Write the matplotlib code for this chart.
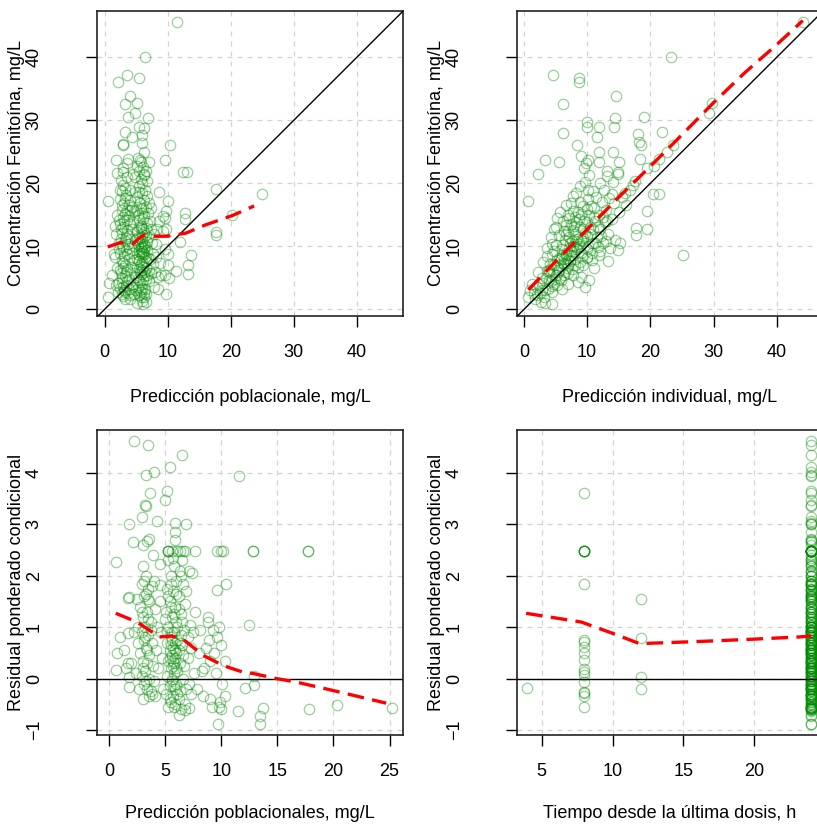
import matplotlib.pyplot as plt

plt.rcParams['font.family'] = ['Liberation Sans', 'DejaVu Sans']

# ---- data ----
# population prediction vs observed concentration (mg/L)
pred_obs = [
    (11.5, 45.5), (6.4, 40.1), (2.2, 36.1), (3.5, 37.2), (5.4, 36.7), (4.0, 33.9),
    (3.2, 32.6), (5.2, 32.8), (4.9, 31.1), (3.7, 30.5), (6.9, 30.3), (5.4, 29.0),
    (6.3, 28.8), (3.3, 28.1), (6.0, 27.7), (4.4, 27.4), (2.9, 26.2), (3.0, 26.1),
    (6.0, 26.4), (10.3, 26.1), (6.2, 24.9), (9.5, 23.7), (1.8, 23.7), (3.7, 23.8),
    (3.5, 23.2), (7.1, 23.3), (5.6, 23.7), (2.9, 22.5), (12.4, 21.8), (13.0, 21.8),
    (2.0, 21.6), (4.5, 21.4), (6.3, 21.4), (0.5, 17.2), (8.7, 18.6), (10.1, 17.2),
    (17.7, 19.1), (25.0, 18.3), (20.2, 14.9), (12.8, 15.3), (12.8, 14.3), (17.7, 12.3),
    (17.7, 11.8), (12.0, 10.7), (9.5, 14.5), (9.8, 15.6), (1.7, 13.2), (1.7, 8.3),
    (13.7, 8.6), (13.3, 7.0), (13.3, 5.6), (11.4, 6.1), (10.1, 8.8), (10.2, 4.9),
    (9.7, 2.5), (6.1, 0.9), (0.7, 4.2), (0.5, 2.0), (1.8, 3.8), (3.3, 1.7),
    (2.6, 20.5), (3.0, 19.8), (2.8, 18.7), (3.4, 18.2), (2.5, 17.5), (3.1, 16.9),
    (3.8, 16.5), (2.7, 15.8), (3.3, 15.2), (2.9, 14.6), (3.6, 14.1), (2.4, 13.5),
    (3.0, 13.0), (3.5, 12.6), (2.8, 12.1), (3.9, 11.7), (2.6, 11.2), (3.2, 10.8),
    (3.7, 10.3), (2.9, 9.9), (3.4, 9.4), (2.5, 8.9), (3.1, 8.5), (3.8, 8.0),
    (2.7, 7.6), (3.3, 7.1), (2.9, 6.6), (3.6, 6.2), (2.6, 5.7), (3.2, 5.3),
    (3.9, 4.8), (2.8, 4.4), (3.4, 3.9), (2.5, 3.4), (3.1, 3.0), (3.7, 2.6),
    (3.0, 2.1), (4.0, 1.6), (3.5, 12.0), (3.8, 14.8), (4.1, 17.3), (2.3, 10.5),
    (4.2, 6.8), (4.4, 9.0), (4.3, 12.8), (4.0, 19.0),
    (5.3, 24.0), (5.8, 23.4), (6.1, 22.6), (5.5, 22.0), (6.3, 21.3), (5.7, 20.7),
    (6.0, 20.0), (5.4, 19.5), (6.4, 19.0), (5.9, 18.4), (5.2, 17.9), (6.2, 17.4),
    (5.6, 16.8), (6.5, 16.3), (5.0, 15.8), (5.9, 15.3), (6.3, 14.8), (5.4, 14.2),
    (6.7, 13.7), (5.7, 13.2), (6.1, 12.7), (5.1, 12.2), (6.5, 11.8), (5.6, 11.3),
    (6.0, 10.8), (5.3, 10.4), (6.4, 10.0), (5.8, 9.6), (5.5, 9.2), (6.2, 8.8),
    (5.9, 8.4), (5.2, 8.0), (6.6, 7.6), (5.7, 7.2), (6.1, 6.8), (5.4, 6.4),
    (6.3, 6.0), (5.8, 5.6), (5.0, 5.2), (6.5, 4.8), (5.6, 4.4), (6.0, 4.0),
    (5.3, 3.6), (6.4, 3.2), (5.8, 2.8), (5.5, 2.3), (6.2, 1.9), (5.9, 1.4),
    (4.8, 18.6), (4.9, 11.0), (4.7, 7.8), (6.8, 9.4), (6.9, 11.4), (7.0, 6.3),
    (7.2, 14.0), (7.1, 4.5), (6.7, 20.4), (6.6, 2.5), (5.7, 10.1), (6.0, 9.2),
    (5.5, 8.6), (6.2, 10.4), (5.9, 11.9), (5.4, 13.0), (6.1, 14.4), (5.8, 16.0),
    (7.6, 8.8), (8.0, 6.0), (8.4, 5.2), (8.8, 7.3), (7.8, 3.5), (8.2, 10.3),
    (9.0, 5.5), (9.3, 12.5), (8.6, 14.0), (7.4, 16.0), (7.9, 12.0), (8.5, 3.3),
    (9.5, 9.5), (10.0, 7.0), (9.8, 12.8), (9.2, 14.8), (9.6, 5.4),
    (1.2, 5.5), (1.5, 8.8), (1.8, 12.0), (2.0, 6.5), (2.2, 2.8), (1.9, 15.0),
    (2.3, 9.5), (2.1, 4.2),
    (5.9, 9.9), (6.1, 9.0), (5.7, 8.9), (6.3, 9.7), (5.6, 10.6), (6.0, 11.5),
    (6.2, 12.2), (5.8, 12.9), (5.5, 7.7), (6.0, 7.5), (6.4, 8.3), (5.9, 6.2),
    (6.2, 5.3), (5.6, 5.9), (5.3, 4.8), (6.7, 5.5), (6.0, 3.3), (5.7, 1.9),
    (6.5, 1.2), (5.1, 1.0), (4.6, 2.5), (4.5, 4.0), (4.7, 5.8), (4.6, 10.0),
    (4.5, 13.8), (4.7, 15.6), (4.4, 16.2), (4.9, 21.0), (5.1, 22.8), (6.6, 22.0),
    (6.8, 18.0), (7.0, 16.8), (6.9, 15.3), (7.3, 12.7), (7.5, 10.5), (7.2, 8.0),
    (7.4, 5.8), (7.7, 7.2), (8.1, 8.3), (8.3, 12.8), (3.3, 19.2), (3.6, 21.0),
    (2.9, 21.8), (3.2, 17.7), (2.7, 16.6), (3.5, 15.8), (3.1, 14.0), (2.6, 12.7),
    (3.4, 11.3), (2.8, 10.2), (3.6, 8.8), (2.9, 7.3), (3.4, 5.9), (2.7, 4.9),
    (3.5, 4.5), (3.0, 3.6), (2.7, 2.4), (3.3, 2.8), (3.9, 3.2), (4.1, 2.3),
    (4.3, 3.5), (3.9, 9.7), (4.0, 13.5), (4.1, 15.8), (2.4, 6.3), (2.3, 14.2),
    (2.5, 19.0), (5.5, 18.6), (6.1, 16.1), (5.3, 15.0), (6.5, 12.9), (5.2, 11.1),
    (6.7, 10.7), (6.9, 8.2), (5.1, 6.7), (6.6, 6.6), (5.0, 3.0), (6.3, 2.6),
    (5.6, 3.1), (6.1, 4.7),
]
pred_obs_smooth_x = [0.5, 2.5, 4.5, 5.5, 6.3, 8.0, 10.0, 12.9, 16.0, 20.3, 23.7]
pred_obs_smooth_y = [9.9, 10.6, 10.4, 11.3, 11.8, 11.6, 11.6, 12.1, 13.4, 14.9, 16.4]

# individual prediction vs observed concentration (mg/L)
ipred_obs = [
    (44.1, 45.5), (23.3, 40.1), (4.6, 37.2), (8.7, 36.7), (8.7, 36.1), (14.5, 33.9),
    (6.2, 32.6), (29.8, 32.7), (29.2, 31.1), (9.9, 29.7), (9.9, 29.0), (11.9, 28.9),
    (14.4, 30.3), (14.2, 28.9), (19.0, 30.5), (6.1, 27.9), (11.5, 27.3), (18.1, 27.8),
    (18.2, 26.6), (18.5, 26.1), (21.9, 28.1), (23.5, 26.1), (8.4, 26.1), (11.9, 25.0),
    (11.9, 23.4), (14.1, 24.9), (9.0, 24.4), (3.3, 23.7), (5.5, 23.4), (10.2, 23.7),
    (9.8, 23.2), (9.5, 22.4), (15.0, 23.4), (18.4, 23.8), (21.4, 23.8), (22.7, 24.9),
    (2.2, 21.5), (10.3, 21.3), (13.1, 21.9), (14.8, 21.8), (13.2, 21.2), (14.9, 21.4),
    (12.0, 20.0), (14.1, 20.2), (19.4, 22.4), (20.6, 22.8), (20.4, 18.3), (21.4, 18.3),
    (19.4, 15.6), (19.4, 12.8), (17.7, 12.9), (17.7, 11.8), (25.2, 8.7), (0.7, 17.2),
    (13.3, 7.6), (4.4, 0.9), (0.7, 1.9),
    (2.0, 3.5), (2.5, 2.6), (3.0, 4.2), (3.2, 2.0), (3.5, 5.0), (3.8, 3.3),
    (4.0, 6.2), (4.2, 4.5), (4.5, 2.8), (4.8, 7.0), (5.0, 5.4), (5.2, 3.8),
    (5.5, 8.2), (5.6, 6.3), (5.8, 4.6), (6.0, 9.5), (6.1, 7.4), (6.3, 5.5),
    (6.5, 11.0), (6.6, 8.6), (6.8, 6.5), (7.0, 12.4), (7.1, 9.8), (7.3, 7.6),
    (7.5, 13.5), (7.6, 10.9), (7.8, 8.7), (8.0, 14.6), (8.1, 12.0), (8.3, 9.9),
    (8.5, 6.8), (8.6, 15.5), (8.8, 13.0), (9.0, 11.0), (9.2, 8.4), (9.4, 16.4),
    (9.5, 14.0), (9.7, 12.1), (9.9, 9.6), (10.1, 17.5), (10.3, 15.0), (10.5, 13.1),
    (10.7, 10.6), (10.9, 18.7), (11.1, 16.0), (11.3, 14.0), (11.5, 11.5), (11.8, 15.0),
    (12.0, 12.8), (12.3, 17.0), (12.5, 10.5), (12.8, 13.8), (13.0, 15.8), (13.3, 12.0),
    (13.6, 9.8), (14.0, 14.3), (14.4, 11.0), (14.8, 9.4), (15.2, 10.5), (3.0, 7.5),
    (3.6, 9.8), (4.2, 11.4), (4.8, 12.7), (5.3, 14.5), (5.7, 15.4), (6.2, 14.0),
    (6.9, 15.0), (7.4, 16.9), (8.2, 18.4), (8.9, 19.5), (9.6, 20.2), (10.2, 19.0),
    (5.0, 10.2), (2.2, 6.0), (1.6, 2.5), (1.2, 4.0), (1.0, 3.0), (1.8, 1.6),
    (2.7, 1.2), (3.4, 1.0), (6.0, 3.2), (7.0, 4.0), (7.8, 5.5), (8.6, 4.3),
    (9.1, 5.2), (6.4, 12.5), (7.2, 14.5), (8.4, 11.2), (5.9, 8.0), (6.7, 9.0),
    (7.7, 10.0), (4.4, 8.8), (3.9, 6.0), (9.3, 7.0), (10.0, 8.3), (10.8, 9.0),
    (11.7, 9.9), (12.2, 11.6), (15.5, 17.8), (16.0, 18.5), (16.7, 19.0), (17.2, 19.8),
    (17.6, 20.3), (13.5, 17.6), (14.3, 16.8), (15.0, 15.5), (16.2, 16.5), (14.0, 18.3),
    (11.0, 6.6), (10.3, 4.7), (9.7, 3.5), (6.3, 8.0), (7.0, 7.0), (7.5, 9.3),
    (8.0, 8.0), (6.5, 6.0), (5.3, 6.8), (4.6, 5.6), (8.7, 10.3), (9.4, 10.8),
    (3.3, 3.0), (3.9, 4.6), (4.4, 3.7), (4.9, 4.8), (5.4, 5.9), (5.9, 6.9),
    (6.4, 7.2), (6.9, 7.9), (7.4, 8.6), (7.9, 9.2), (8.4, 9.6), (8.9, 10.1),
    (9.4, 11.3), (9.9, 11.7), (10.4, 12.0), (10.9, 12.7), (6.2, 10.2), (7.1, 11.5),
    (7.9, 13.2), (8.7, 14.4), (5.6, 11.8), (6.6, 13.4), (7.8, 15.6), (8.9, 17.0),
    (9.9, 15.9), (10.6, 16.4), (11.4, 17.8), (12.6, 18.9), (4.8, 9.3), (4.1, 7.2),
    (3.6, 6.1), (2.8, 5.0), (2.4, 4.1), (2.0, 2.3), (2.9, 3.1), (4.7, 4.1),
    (5.7, 5.0), (6.9, 5.7), (7.6, 6.4), (8.8, 7.5), (9.9, 8.2), (10.7, 7.9),
    (11.9, 8.6), (5.2, 7.9), (6.0, 8.7), (7.3, 10.6), (8.2, 10.9), (9.3, 12.8),
    (10.0, 13.8), (11.0, 14.6), (11.7, 13.1), (12.5, 14.6), (13.1, 14.0), (6.7, 11.9),
    (7.7, 12.6), (8.3, 13.9), (9.0, 15.1), (3.7, 8.4), (4.5, 10.3), (5.1, 13.1),
    (6.6, 16.5), (7.8, 18.0), (8.0, 7.1), (9.0, 8.9), (10.1, 10.0), (11.2, 10.5),
    (12.0, 9.3), (13.0, 10.8),
]
ipred_obs_smooth_x = [0.7, 5.0, 10.0, 15.0, 20.0, 25.0, 30.0, 35.0, 40.0, 44.1]
ipred_obs_smooth_y = [3.1, 7.6, 12.7, 17.8, 22.7, 27.7, 32.8, 37.6, 42.0, 45.8]

# population prediction vs conditional weighted residual
pred_cwres = [
    (2.26, 4.63), (3.5, 4.55), (6.5, 4.35), (5.4, 4.12), (3.3, 3.96), (4.0, 4.02),
    (11.6, 3.94), (3.65, 3.61), (5.2, 3.66), (5.0, 3.47), (3.3, 3.36), (3.2, 3.38),
    (2.9, 3.15), (1.8, 3.0), (4.3, 3.07), (5.9, 3.02), (6.9, 3.0), (5.9, 2.85),
    (5.9, 2.69), (2.1, 2.65), (3.0, 2.6), (3.6, 2.72), (3.4, 2.68),
    (5.29, 2.48), (5.29, 2.48), (5.29, 2.48), (5.59, 2.48), (6.03, 2.48), (6.33, 2.48),
    (6.62, 2.48), (6.77, 2.48), (7.66, 2.48), (9.6, 2.48), (10.0, 2.48), (10.2, 2.48),
    (12.86, 2.48), (12.86, 2.48), (17.77, 2.48), (17.77, 2.48),
    (0.6, 2.27), (4.5, 2.23), (7.1, 2.1), (9.6, 1.72), (10.4, 1.85), (1.7, 1.56),
    (1.8, 1.58), (4.5, 1.82), (8.8, 1.2), (12.5, 1.05), (1.7, 0.88), (0.7, 0.49),
    (0.6, 0.16), (1.7, 0.3), (1.8, 0.02), (1.8, -0.16), (12.9, 0.05), (12.9, -0.13),
    (12.1, -0.18), (11.5, -0.63), (13.75, -0.57), (13.5, -0.73), (13.5, -0.89),
    (9.7, -0.89), (9.9, -0.45), (10.3, -0.35), (9.8, -0.55), (10.0, -0.6),
    (6.2, -0.72), (7.1, -0.58), (6.8, -0.62), (17.8, -0.6), (20.3, -0.51), (25.2, -0.57),
    (3.0, 2.2), (3.3, 2.0), (2.9, 1.85), (3.5, 1.75), (3.1, 1.6), (3.6, 1.5),
    (2.8, 1.4), (3.4, 1.3), (3.0, 1.2), (3.7, 1.1), (3.2, 1.0), (2.9, 0.9),
    (3.5, 0.85), (3.1, 0.75), (3.8, 0.7), (3.3, 0.6), (2.8, 0.5), (3.6, 0.45),
    (3.0, 0.35), (3.4, 0.3), (3.9, 0.25), (3.2, 0.15), (2.9, 0.05), (3.6, 0.0),
    (3.1, -0.1), (3.4, -0.2), (3.8, -0.3), (3.0, -0.4), (4.0, 1.9), (4.1, 1.35),
    (4.2, 0.55), (4.0, -0.05), (3.5, 1.55), (2.6, 0.7), (2.5, 1.55), (3.9, 2.4),
    (4.3, 1.0), (4.4, 0.2), (3.7, -0.25), (2.7, -0.2),
    (5.3, 2.3), (5.8, 2.2), (6.3, 2.1), (5.5, 2.0), (6.0, 1.9), (6.6, 1.85),
    (5.2, 1.75), (5.7, 1.7), (6.2, 1.6), (5.4, 1.5), (6.8, 1.45), (5.9, 1.4),
    (5.1, 1.3), (6.4, 1.25), (5.6, 1.2), (6.0, 1.1), (5.3, 1.0), (6.7, 0.95),
    (5.8, 0.9), (5.5, 0.8), (6.1, 0.75), (5.2, 0.7), (6.5, 0.65), (5.7, 0.6),
    (5.4, 0.55), (6.0, 0.5), (5.6, 0.45), (5.9, 0.4), (5.3, 0.35), (6.3, 0.3),
    (5.7, 0.25), (5.5, 0.2), (6.1, 0.15), (5.8, 0.1), (5.2, 0.05), (6.6, 0.0),
    (5.6, -0.05), (6.0, -0.1), (5.4, -0.15), (5.9, -0.2), (6.3, -0.25), (5.1, -0.3),
    (5.7, -0.35), (6.2, -0.4), (5.5, -0.45), (6.8, -0.5), (5.8, -0.55), (6.4, 0.85),
    (5.0, 1.15), (7.0, 0.4), (7.2, 1.05), (7.1, -0.1), (6.9, 1.7), (6.5, 2.3),
    (5.5, 0.65), (5.9, 0.7), (6.2, 0.55), (5.6, 0.9), (5.8, 0.3), (5.4, 0.4),
    (7.5, 0.9), (8.0, 0.5), (8.3, 0.15), (8.6, 0.6), (9.0, 0.35), (9.3, 0.95),
    (9.6, 0.8), (9.5, 0.1), (10.0, 0.65), (10.3, 0.35), (7.8, -0.2), (8.4, -0.35),
    (9.0, -0.4), (7.3, -0.3), (7.7, 1.3), (8.8, 1.1), (9.8, 1.0), (7.4, 2.05),
    (8.5, 0.2), (10.1, -0.1), (9.2, -0.55), (1.0, 0.8), (1.3, 0.55), (2.0, 0.3),
    (2.2, 0.9), (1.5, 0.2),
    (3.1, 1.9), (3.3, 1.65), (2.9, 1.3), (3.5, 1.15), (3.2, 0.8), (3.4, 0.55),
    (3.0, 0.2), (3.3, -0.05), (3.6, -0.35), (3.7, 0.95), (5.5, 1.4), (5.8, 1.25),
    (6.1, 1.0), (5.6, 0.75), (5.9, 0.55), (5.7, 0.35), (6.0, 0.2), (5.6, 0.0),
    (5.8, -0.15), (6.1, -0.3), (5.4, -0.4), (5.9, -0.5), (6.4, -0.6), (5.3, -0.55),
    (6.6, 0.45), (6.3, 0.7), (5.2, 0.9), (6.5, 1.1), (6.2, 1.35), (5.3, 1.6),
    (6.0, 1.65), (5.5, 1.85), (6.4, 2.0), (5.7, 2.35), (6.7, 0.25), (6.9, -0.2),
    (7.0, 0.8), (7.3, 0.6), (7.6, 0.1), (8.1, 0.95), (8.9, 0.75), (9.4, 0.5),
    (4.6, 0.9), (4.7, 0.4), (4.8, -0.2), (4.5, 1.5), (2.6, 1.0), (2.4, 0.1),
    (3.8, 1.8), (4.1, -0.35),
]
pred_cwres_smooth_x = [0.6, 2.5, 4.5, 5.6, 6.8, 8.4, 10.2, 12.0, 12.8, 14.9, 16.7, 20.1, 24.7]
pred_cwres_smooth_y = [1.27, 1.10, 0.81, 0.83, 0.73, 0.45, 0.25, 0.12, 0.10, 0.0, -0.07, -0.24, -0.48]

# time after dose (h) vs conditional weighted residual; the rest sit at 24 h
tad_early = [4, 8, 8, 8, 8, 8, 8, 8, 8, 8, 8, 8, 8, 8, 8, 8, 8, 8, 8, 8, 8,
             12, 12, 12, 12]
cwres_early = [-0.18, 3.61, 2.48, 2.48, 2.48, 2.48, 2.48, 1.84, 0.75, 0.71, 0.62,
               0.49, 0.36, 0.19, 0.13, 0.06, -0.07, -0.26, -0.29, -0.34, -0.55,
               1.55, 0.79, 0.03, -0.21]
tad_smooth_x = [3.9, 7.8, 10.0, 11.9, 14.0, 16.9, 20.2, 23.2, 24.0]
tad_smooth_y = [1.27, 1.10, 0.88, 0.68, 0.70, 0.73, 0.77, 0.81, 0.83]

# ---- drawing ----
W, H = 817, 824
fig = plt.figure(figsize=(W / 100, H / 100), dpi=100)

PT_COLOR = '#008B00'
FS = 13


def make_axes(left, top, bottom):
    return fig.add_axes([left / W, 1 - bottom / H, 306 / W, (bottom - top) / H])


def style(ax, xticks, yticks, xlim, ylim):
    ax.set_xlim(*xlim)
    ax.set_ylim(*ylim)
    ax.set_xticks(xticks)
    ax.set_yticks(yticks)
    ax.grid(True, color='#D3D3D3', linestyle=(0, (4, 4)), linewidth=0.9)
    ax.set_axisbelow(True)
    for s in ax.spines.values():
        s.set_linewidth(1.2)
        s.set_color('#222222')
    ax.tick_params(axis='both', direction='out', length=8, width=1.0,
                   labelsize=FS, colors='black')
    ax.tick_params(axis='x', pad=12)
    ax.tick_params(axis='y', pad=31, labelrotation=90)
    for lab in ax.get_yticklabels():
        lab.set_verticalalignment('center')


def scatter(ax, pts):
    xs = [p[0] for p in pts]
    ys = [p[1] for p in pts]
    ax.plot(xs, ys, linestyle='none', marker='o', markersize=7.5,
            markerfacecolor='none', markeredgecolor=PT_COLOR,
            markeredgewidth=0.9, alpha=0.4, zorder=3)


def smooth(ax, xs, ys):
    ax.plot(xs, ys, color='red', linewidth=2.4, linestyle=(0, (5, 2.5)), zorder=5)


top_ylim = (-1.05, 47.4)
top_ticks = [0, 10, 20, 30, 40]

# top left
ax1 = make_axes(97, 10.5, 316)
scatter(ax1, pred_obs)
ax1.plot([-5, 60], [-5, 60], color='black', linewidth=1.0, zorder=4)
smooth(ax1, pred_obs_smooth_x, pred_obs_smooth_y)
style(ax1, top_ticks, top_ticks, (-1.2, 47.3), top_ylim)

# top right
ax2 = make_axes(517, 10.5, 316)
scatter(ax2, ipred_obs)
ax2.plot([-5, 60], [-5, 60], color='black', linewidth=1.0, zorder=4)
smooth(ax2, ipred_obs_smooth_x, ipred_obs_smooth_y)
style(ax2, top_ticks, top_ticks, (-1.1, 47.3), top_ylim)

# bottom left
ax3 = make_axes(97, 430, 735)
scatter(ax3, pred_cwres)
ax3.axhline(0, color='black', linewidth=1.0, zorder=4)
smooth(ax3, pred_cwres_smooth_x, pred_cwres_smooth_y)
style(ax3, [0, 5, 10, 15, 20, 25], [-1, 0, 1, 2, 3, 4], (-1.07, 26.2), (-1.1, 4.84))

# bottom right
ax4 = make_axes(517, 430, 735)
late = [(24, p[1]) for p in pred_cwres]
scatter(ax4, list(zip(tad_early, cwres_early)) + late)
ax4.axhline(0, color='black', linewidth=1.0, zorder=4)
smooth(ax4, tad_smooth_x, tad_smooth_y)
style(ax4, [5, 10, 15, 20], [-1, 0, 1, 2, 3, 4], (3.26, 24.84), (-1.1, 4.84))

# axis titles
lab_kw = dict(fontsize=FS, ha='center', va='center')
fig.text(250 / W, 1 - 398 / H, 'Predicción poblacionale, mg/L', **lab_kw)
fig.text(670 / W, 1 - 398 / H, 'Predicción individual, mg/L', **lab_kw)
fig.text(250 / W, 1 - 814 / H, 'Predicción poblacionales, mg/L', **lab_kw)
fig.text(670 / W, 1 - 814 / H, 'Tiempo desde la última dosis, h', **lab_kw)
fig.text(17 / W, 1 - 163 / H, 'Concentración Fenitoína, mg/L', rotation=90, **lab_kw)
fig.text(437 / W, 1 - 163 / H, 'Concentración Fenitoína, mg/L', rotation=90, **lab_kw)
fig.text(17 / W, 1 - 582 / H, 'Residual ponderado condicional', rotation=90, **lab_kw)
fig.text(437 / W, 1 - 582 / H, 'Residual ponderado condicional', rotation=90, **lab_kw)

fig.savefig('out.png', dpi=100)
